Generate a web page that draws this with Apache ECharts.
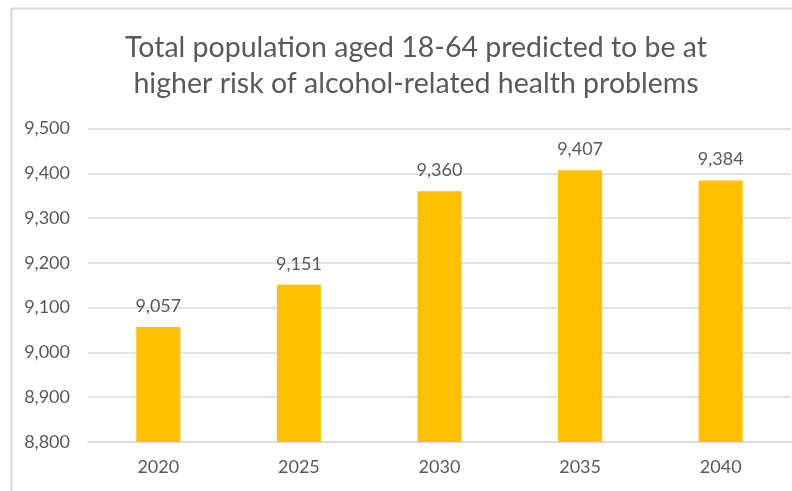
<!DOCTYPE html>
<html><head><meta charset="utf-8">
<script src="https://cdn.jsdelivr.net/npm/echarts@6/dist/echarts.min.js"></script>
<style>html,body{margin:0;padding:0;background:#fff}#c{width:792px;height:491px}</style>
</head><body><div id="c"></div>
<script>
const titleText = "Total population aged 18-64 predicted to be at\nhigher risk of alcohol-related health problems";
const categories = ["2020", "2025", "2030", "2035", "2040"];
const values = [9057, 9151, 9360, 9407, 9384];
const yMin = 8800, yMax = 9500, yStep = 100;

const FONT = "Lato";
const chart = echarts.init(document.getElementById('c'));
chart.setOption({
  animation: false,
  backgroundColor: '#fff',
  textStyle: { fontFamily: FONT },
  title: {
    text: titleText,
    left: 411, top: 25, textAlign: 'center',
    textStyle: { fontFamily: FONT, fontSize: 28.5, fontWeight: 'normal', color: '#595959', lineHeight: 36 }
  },
  graphic: [{
    type: 'rect', left: 9, top: 6, silent: true,
    shape: { width: 820, height: 520 },
    style: { fill: 'none', stroke: '#d9d9d9', lineWidth: 2 }
  }],
  grid: { left: 88, right: 1, top: 128.5, bottom: 49, containLabel: false },
  xAxis: {
    type: 'category', data: categories,
    axisLine: { lineStyle: { color: '#d9d9d9', width: 1.5 } },
    axisTick: { show: false },
    axisLabel: { color: '#595959', fontSize: 18, fontFamily: FONT, margin: 16 }
  },
  yAxis: {
    type: 'value', min: yMin, max: yMax, interval: yStep,
    axisLine: { show: false }, axisTick: { show: false },
    splitLine: { lineStyle: { color: '#d9d9d9', width: 1.5 } },
    axisLabel: { color: '#595959', fontSize: 18, fontFamily: FONT, margin: 18,
      formatter: v => v.toLocaleString('en-US') }
  },
  series: [{
    type: 'bar', data: values, barWidth: 44,
    itemStyle: { color: '#FFC000' },
    label: { show: true, position: 'top', distance: 12, color: '#595959', fontSize: 18, fontFamily: FONT,
      formatter: p => p.value.toLocaleString('en-US') }
  }]
});
</script></body></html>
